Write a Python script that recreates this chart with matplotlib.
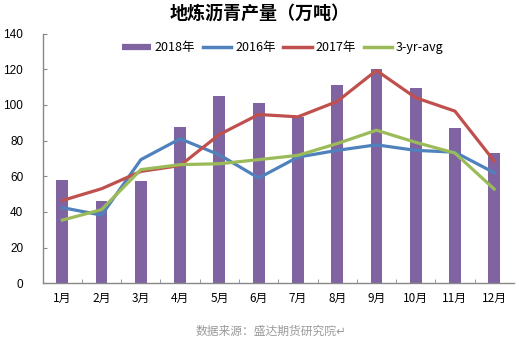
import numpy as np
import matplotlib.pyplot as plt
from matplotlib.lines import Line2D

plt.rcParams['font.family'] = ['Liberation Sans', 'Noto Sans CJK SC', 'DejaVu Sans']
cjk = ['Noto Sans CJK SC', 'DejaVu Sans']

# monthly output, 10k tonnes
months = ['1月', '2月', '3月', '4月', '5月', '6月', '7月', '8月', '9月', '10月', '11月', '12月']
y2018 = [57.7, 46, 57.2, 87.5, 105, 101, 93, 111, 120.2, 109.7, 86.8, 73.3]
y2016 = [42.4, 38.2, 69.3, 81, 72, 59, 70.7, 74.5, 77.6, 74.5, 73.5, 62]
y2017 = [46.4, 53, 62.7, 66, 83.4, 94.6, 93.3, 101.9, 119.3, 104, 96.5, 68.5]
avg3 = [35.4, 41.3, 63.7, 66.5, 67, 69.3, 71.7, 78.3, 85.8, 79, 73, 52.8]

c18, c16, c17, cavg = '#8064A2', '#4F81BD', '#C0504D', '#9BBB59'

x = np.arange(len(months))

fig = plt.figure(figsize=(5.19, 3.44), dpi=100)
ax = fig.add_axes([0.0823, 0.1765, 0.9077, 0.7261])

ax.bar(x, y2018, width=0.3, color=c18, zorder=1)
ax.plot(x, y2016, color=c16, lw=2.3, zorder=2)
ax.plot(x, y2017, color=c17, lw=2.3, zorder=3)
ax.plot(x, avg3, color=cavg, lw=2.3, zorder=4)

ax.set_xlim(-0.5, len(months) - 0.5)
ax.set_ylim(0, 140)
ax.set_yticks(range(0, 141, 20))
ax.set_xticks(x)
ax.set_xticklabels(months, fontsize=8.5, family=cjk)
ax.set_xticks(np.arange(0.5, len(months) - 0.5, 1), minor=True)
ax.tick_params(axis='x', which='major', length=0, pad=6)
ax.tick_params(axis='x', which='minor', direction='in', length=3, color='#888888')
ax.tick_params(axis='y', direction='in', length=3, color='#888888', labelsize=8.5, pad=14)

for side in ['top', 'right']:
    ax.spines[side].set_visible(False)
for side in ['left', 'bottom']:
    ax.spines[side].set_color('#888888')
    ax.spines[side].set_linewidth(1.0)

fig.text(0.50, 0.962, '地炼沥青产量（万吨）', ha='center', va='center',
         fontsize=13, fontweight='bold', family=cjk)

handles = [Line2D([], [], color=c18, lw=4.5, solid_capstyle='butt'),
           Line2D([], [], color=c16, lw=2.5),
           Line2D([], [], color=c17, lw=2.5),
           Line2D([], [], color=cavg, lw=2.5)]
labels = ['2018年', '2016年', '2017年', '3-yr-avg']
ax.legend(handles, labels, loc='upper center', bbox_to_anchor=(0.51, 1.015), ncol=4,
          frameon=False, handlelength=2.3, handletextpad=0.3, columnspacing=0.6,
          prop={'family': cjk, 'size': 9})

fig.text(0.522, 0.038, '数据来源：盛达期货研究院↵', ha='center', va='center',
         fontsize=8.5, color='#9a9a9a', family=cjk)

fig.savefig('out.png', dpi=100)
